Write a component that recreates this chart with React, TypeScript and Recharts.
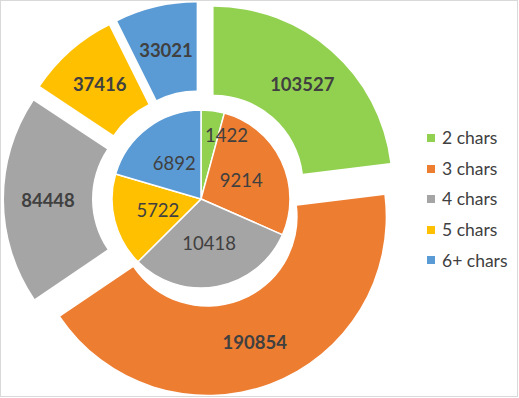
import React from 'react';
import { PieChart, Pie, Sector, Cell, Legend } from 'recharts';

const CATEGORIES = ['2 chars', '3 chars', '4 chars', '5 chars', '6+ chars'];
const INNER_VALUES = [1422, 9214, 10418, 5722, 6892];
const OUTER_VALUES = [103527, 190854, 84448, 37416, 33021];
const COLORS = ['#92D050', '#ED7D31', '#A5A5A5', '#FFC000', '#5B9BD5'];

const innerData = CATEGORIES.map((name, i) => ({ name, value: INNER_VALUES[i] }));
const outerData = CATEGORIES.map((name, i) => ({ name, value: OUTER_VALUES[i] }));

const RAD = Math.PI / 180;
const EXPLODE = 19;
const FONT = 'Lato, "Open Sans", sans-serif';
const TEXT = '#404040';
const LABEL_SIZE = 18.5;

function renderOuter(props: any) {
  const { cx, cy, midAngle, innerRadius, outerRadius, startAngle, endAngle, index, value } = props;
  const ox = cx + EXPLODE * Math.cos(-midAngle * RAD);
  const oy = cy + EXPLODE * Math.sin(-midAngle * RAD);
  const r = (innerRadius + outerRadius) / 2;
  const lx = ox + r * Math.cos(-midAngle * RAD);
  const ly = oy + r * Math.sin(-midAngle * RAD);
  return (
    <g key={`outer-${index}`}>
      <Sector
        cx={ox}
        cy={oy}
        innerRadius={innerRadius}
        outerRadius={outerRadius}
        startAngle={startAngle}
        endAngle={endAngle}
        fill={COLORS[index]}
        stroke="none"
      />
      <text
        x={lx}
        y={ly}
        textAnchor="middle"
        dominantBaseline="central"
        fill={TEXT}
        fontFamily={FONT}
        fontSize={LABEL_SIZE}
        fontWeight="bold"
      >
        {value}
      </text>
    </g>
  );
}

function renderInnerLabel(props: any) {
  const { cx, cy, midAngle, outerRadius, index, value, percent } = props;
  const small = percent < 0.05;
  const r = small ? outerRadius * 0.73 : outerRadius * 0.5;
  let x = cx + r * Math.cos(-midAngle * RAD);
  const y = cy + r * Math.sin(-midAngle * RAD);
  let anchor: 'middle' | 'start' = 'middle';
  if (small) {
    x = cx + 4;
    anchor = 'start';
  }
  return (
    <text
      key={`inner-${index}`}
      x={x}
      y={y}
      textAnchor={anchor}
      dominantBaseline="central"
      fill={TEXT}
      fontFamily={FONT}
      fontSize={LABEL_SIZE}
    >
      {value}
    </text>
  );
}

const renderLegend = () => (
  <div style={{ fontFamily: FONT, fontSize: 17.5, color: TEXT, lineHeight: 1 }}>
    {CATEGORIES.map((c, i) => (
      <div key={c} style={{ display: 'flex', alignItems: 'center', height: 30.6 }}>
        <span style={{ display: 'inline-block', width: 8, height: 8, background: COLORS[i], marginRight: 7 }} />
        <span>{c}</span>
      </div>
    ))}
  </div>
);

export default function App() {
  return (
    <div style={{ position: 'absolute', left: 0, top: 0, width: 519, height: 398, background: '#fff' }}>
      <PieChart width={519} height={398} margin={{ top: 0, right: 0, bottom: 0, left: 0 }}>
        <Pie
          data={outerData}
          dataKey="value"
          nameKey="name"
          cx={201}
          cy={199}
          innerRadius={90}
          outerRadius={178}
          startAngle={90}
          endAngle={-270}
          fill="none"
          stroke="none"
          label={renderOuter}
          labelLine={false}
          isAnimationActive={false}
        />
        <Pie
          data={innerData}
          dataKey="value"
          nameKey="name"
          cx={201}
          cy={199}
          innerRadius={0}
          outerRadius={89}
          startAngle={90}
          endAngle={-270}
          stroke="#fff"
          strokeWidth={1.5}
          label={renderInnerLabel}
          labelLine={false}
          isAnimationActive={false}
        >
          {innerData.map((d, i) => (
            <Cell key={d.name} fill={COLORS[i]} />
          ))}
        </Pie>
        <Legend
          layout="vertical"
          verticalAlign="middle"
          align="right"
          content={renderLegend}
          wrapperStyle={{ position: 'absolute', left: 427, top: 122.7, width: 90 }}
        />
      </PieChart>
      <div
        style={{
          position: 'absolute',
          left: 0,
          top: 0,
          width: 518,
          height: 397,
          boxSizing: 'border-box',
          border: '1px solid #D9D9D9',
          pointerEvents: 'none',
        }}
      />
    </div>
  );
}
